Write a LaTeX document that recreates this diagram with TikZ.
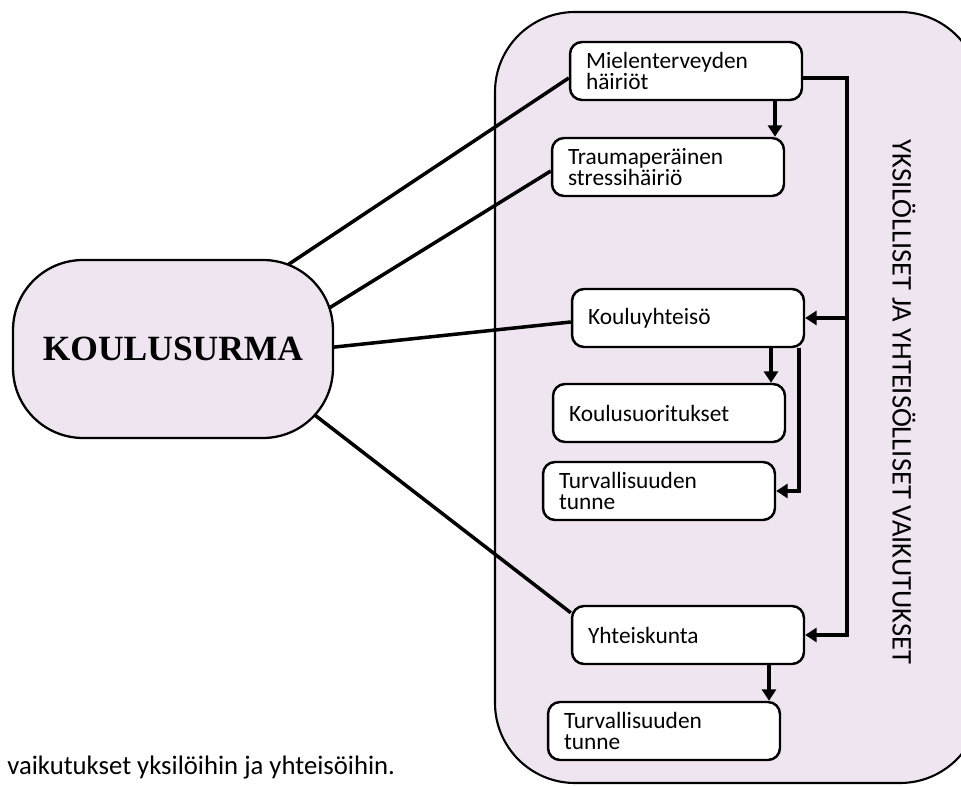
\documentclass[tikz,border=0pt]{standalone}
\usepackage{fontspec}
\setmainfont{Carlito}
\newfontfamily\headfont{Liberation Serif}
\usetikzlibrary{arrows.meta,calc}
\definecolor{lila}{RGB}{239,229,241}
\pgfdeclarelayer{bg}
\pgfdeclarelayer{mid}
\pgfsetlayers{bg,mid,main}

\begin{document}
\begin{tikzpicture}[x=0.02cm,y=-0.02cm,
  box/.style={draw,line width=1.4pt,fill=white,rounded corners=0.24cm,
    minimum width=4.64cm,minimum height=1.16cm,text width=4.0cm,
    inner xsep=0.32cm,align=left,font=\fontsize{13.3}{12.4}\selectfont},
  link/.style={line width=2pt},
  arr/.style={line width=2.2pt,-{Triangle[length=6.5pt,width=8pt]}}]
  \useasboundingbox (0,0) rectangle (961,786);
  \begin{pgfonlayer}{bg}
    \begin{scope}
      \clip (0,0) rectangle (961,786);
      \draw[line width=1.2pt,fill=lila,rounded corners=1.6cm] (495,12) rectangle (980,783);
    \end{scope}
  \end{pgfonlayer}

  \node[draw,line width=1.3pt,fill=lila,rounded corners=1.4cm,minimum width=6.4cm,
    minimum height=3.56cm,font=\headfont\bfseries\fontsize{20.2}{24}\selectfont] (ks) at (173,349) {KOULUSURMA};

  \node[box] (miel) at (686,71) {Mielenterveyden\\häiriöt};
  \node[box] (trauma) at (668,167) {Traumaperäinen\\stressihäiriö};
  \node[box] (koulu) at (688,318) {Kouluyhteisö};
  \node[box] (ksuor) at (669,413) {Koulusuoritukset};
  \node[box] (turv1) at (659,491) {Turvallisuuden\\tunne};
  \node[box] (yht) at (688,635) {Yhteiskunta};
  \node[box] (turv2) at (664,731) {Turvallisuuden\\tunne};

  \node[rotate=-90,font=\fontsize{16.2}{19}\selectfont] (side) at (904,402) {YKSILÖLLISET JA YHTEISÖLLISET VAIKUTUKSET};
  \node[anchor=base west,inner sep=0pt,font=\fontsize{15.2}{18}\selectfont] (cap) at (7,775) {vaikutukset yksilöihin ja yhteisöihin.};

  \begin{pgfonlayer}{mid}
    \draw[link] ($(ks.center)+(77,-59)$) -- ($(miel.west)+(0,7)$);
    \draw[link] ($(ks.center)+(77,8)$) -- ($(trauma.west)+(0,4)$);
    \draw[link] ($(ks.center)+(77,7)$) -- ($(koulu.west)+(0,4)$);
    \draw[link] ($(ks.center)+(77,16)$) -- ($(yht.north west)+(0,8)$);
  \end{pgfonlayer}

  \coordinate (rail) at (847,0);
  \draw[arr] ($(miel.east)+(0,7)$) -| (rail |- yht.east) -- (yht.east);
  \draw[arr] (rail |- koulu.east) -- (koulu.east);
  \draw[arr] ($(miel.south)+(89,0)$) coordinate (m1) -- (m1 |- trauma.north);
  \draw[arr] ($(koulu.south)+(83,0)$) coordinate (k1) -- (k1 |- ksuor.north);
  \draw[arr] ($(koulu.south)+(111,0)$) |- (turv1.east);
  \draw[arr] ($(yht.south)+(81,0)$) coordinate (y1) -- (y1 |- turv2.north);
\end{tikzpicture}
\end{document}
